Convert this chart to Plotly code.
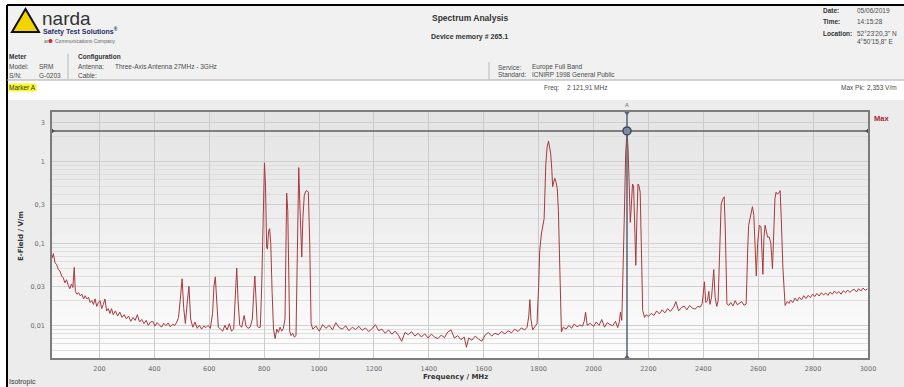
import math
import plotly.graph_objects as go

# ---------------- data ----------------
freq_mhz = [
    27, 32, 38, 44, 50, 56, 62, 68, 74, 80,
    86, 92, 98, 103, 108, 112, 118, 124, 130, 136,
    142, 148, 154, 160, 166, 172, 178, 184, 190, 196,
    202, 208, 214, 220, 226, 232, 238, 244, 250, 258,
    266, 274, 282, 290, 298, 306, 314, 322, 330, 338,
    346, 354, 362, 370, 378, 386, 394, 402, 410, 418,
    426, 434, 442, 450, 458, 466, 474, 482, 488,
    494, 501, 507, 513, 519, 526, 532, 540, 548, 556,
    564, 572, 580, 588, 596, 604, 612, 617, 622, 627,
    633, 641, 649, 657, 665, 673, 681, 689, 695, 700,
    705, 711, 718, 727, 734, 741, 749, 757, 762, 766,
    770, 775, 781, 786, 791, 796, 801, 805, 809, 812,
    816, 820, 824, 829, 834, 840, 846, 852, 858, 864,
    870, 876, 879, 882, 886, 889, 893, 898, 904, 910,
    916, 921, 926, 930, 934, 937, 941, 946, 951, 956,
    961, 966, 971, 977,
    989, 1001, 1013, 1025, 1037, 1049, 1061, 1073, 1085, 1097,
    1109, 1121, 1133, 1145, 1157, 1169, 1181, 1193, 1205, 1217,
    1229, 1241, 1253, 1265, 1277, 1289, 1301, 1313, 1325, 1337,
    1349, 1361, 1373, 1385, 1397, 1409, 1421, 1433, 1445, 1457,
    1469, 1481, 1493, 1505, 1517, 1529, 1537, 1545, 1557, 1569,
    1581, 1593, 1605, 1617, 1629, 1641, 1653, 1665, 1677, 1689,
    1701, 1713, 1725, 1737, 1749, 1758, 1764, 1768, 1772, 1778,
    1786, 1794,
    1800, 1804, 1810, 1815, 1820, 1826, 1831, 1836, 1840, 1844,
    1848, 1851, 1855, 1859, 1864, 1868, 1872, 1875, 1879, 1883,
    1890, 1900, 1910, 1920, 1930, 1940, 1950, 1960, 1966, 1971,
    1977, 1988, 2000, 2010, 2020, 2030, 2040, 2050, 2060, 2070,
    2080, 2088, 2094, 2098, 2103,
    2108, 2112, 2117, 2122, 2126, 2130, 2134, 2138, 2142, 2146,
    2150, 2154, 2158, 2162, 2166, 2170, 2174, 2179, 2186, 2192,
    2200, 2210, 2220, 2230, 2240, 2250, 2260, 2270, 2280, 2292,
    2300, 2310, 2320, 2330, 2340, 2350, 2360, 2370, 2380, 2389,
    2396, 2404, 2409, 2415, 2420, 2424, 2430, 2438, 2443, 2449,
    2454, 2460, 2465, 2470, 2476, 2480, 2486, 2493, 2500, 2508,
    2516, 2524, 2532, 2540, 2548, 2556, 2562, 2565, 2570, 2575,
    2579, 2584, 2588, 2593, 2598, 2604, 2610, 2614, 2617, 2621,
    2625, 2630, 2634, 2640, 2646, 2652, 2657, 2661, 2665, 2670,
    2675, 2680, 2684, 2690, 2698, 2706, 2712, 2718, 2726, 2734,
    2742, 2750, 2758, 2766, 2774, 2782, 2790, 2798, 2806, 2814,
    2822, 2830, 2838, 2846, 2854, 2862, 2870, 2878, 2886, 2894,
    2902, 2910, 2918, 2926, 2934, 2942, 2950, 2958, 2966, 2974,
    2982, 2990, 2998,
]

efield_vm = [
    0.066, 0.075, 0.058, 0.055, 0.048, 0.046, 0.040, 0.038, 0.033, 0.036,
    0.031, 0.028, 0.032, 0.029, 0.051, 0.026, 0.024, 0.025, 0.023, 0.024,
    0.021, 0.023, 0.021, 0.022, 0.019, 0.020, 0.018, 0.021, 0.017, 0.019,
    0.020, 0.016, 0.018, 0.021, 0.015, 0.016, 0.014, 0.016, 0.0135, 0.015,
    0.013, 0.0145, 0.0125, 0.0135, 0.012, 0.013, 0.0112, 0.0125, 0.0115, 0.0135,
    0.011, 0.0118, 0.0105, 0.0115, 0.0100, 0.0110, 0.0112, 0.0098, 0.0108, 0.0102,
    0.0095, 0.0106, 0.0099, 0.0107, 0.0096, 0.0103, 0.0100, 0.0110, 0.0125,
    0.020, 0.037, 0.016, 0.0105, 0.018, 0.030, 0.012, 0.0095, 0.0110, 0.0092,
    0.0100, 0.0090, 0.0098, 0.0094, 0.0100, 0.0092, 0.014, 0.030, 0.039, 0.022,
    0.0095, 0.0090, 0.0085, 0.0100, 0.0088, 0.0105, 0.0085, 0.0090, 0.025, 0.050,
    0.020, 0.0100, 0.0095, 0.0132, 0.0098, 0.0092, 0.0095, 0.012, 0.025, 0.040,
    0.022, 0.0098, 0.0094, 0.0095, 0.03, 0.30, 0.96, 0.50, 0.09, 0.085,
    0.14, 0.151, 0.10, 0.025, 0.009, 0.0069, 0.0090, 0.0082, 0.0095, 0.0085,
    0.0092, 0.012, 0.15, 0.41, 0.25, 0.03, 0.0085, 0.0075, 0.0080, 0.0072,
    0.0075, 0.08, 0.84, 0.30, 0.09, 0.068, 0.20, 0.38, 0.43, 0.44,
    0.42, 0.10, 0.0105, 0.0090,
    0.0098, 0.0085, 0.0102, 0.0092, 0.0100, 0.0088, 0.0108, 0.0094, 0.0090, 0.0099,
    0.0086, 0.0095, 0.0089, 0.0097, 0.0087, 0.0093, 0.0084, 0.0091, 0.0102, 0.0086,
    0.0090, 0.0080, 0.0088, 0.0078, 0.0085, 0.0076, 0.0064, 0.0082, 0.0077, 0.0084,
    0.0074, 0.0080, 0.0072, 0.0079, 0.0070, 0.0078, 0.0072, 0.0069, 0.0076, 0.0071,
    0.0083, 0.0088, 0.0070, 0.0075, 0.0067, 0.0072, 0.0054, 0.0070, 0.0066, 0.0074,
    0.0068, 0.0064, 0.0076, 0.0082, 0.0074, 0.0080, 0.0077, 0.0084, 0.0079, 0.0086,
    0.0081, 0.0090, 0.0084, 0.0093, 0.0088, 0.0095, 0.013, 0.0206, 0.012, 0.0088,
    0.0096, 0.0105,
    0.03, 0.082, 0.13, 0.158, 0.2, 0.9, 1.5, 1.77, 1.5, 1.24,
    0.8, 0.49, 0.56, 0.62, 0.55, 0.46, 0.25, 0.099, 0.02, 0.0083,
    0.0095, 0.0090, 0.0100, 0.0092, 0.0104, 0.0096, 0.0101, 0.0098, 0.0112, 0.0145,
    0.0100, 0.0106, 0.0097, 0.0110, 0.0100, 0.0118, 0.0095, 0.0108, 0.0102, 0.0099,
    0.0112, 0.0094, 0.0110, 0.0145, 0.0115,
    0.04, 0.2, 1.2, 2.353, 1.4, 0.5, 0.18, 0.3, 0.53, 0.5,
    0.2, 0.054, 0.2, 0.53, 0.5, 0.42, 0.1, 0.0152, 0.0125, 0.0135,
    0.0128, 0.0140, 0.0132, 0.0150, 0.0138, 0.0155, 0.0142, 0.0160, 0.0148, 0.0167,
    0.0195, 0.0150, 0.0165, 0.0172, 0.0155, 0.0175, 0.0162, 0.0158, 0.0170, 0.0167,
    0.0185, 0.034, 0.019, 0.020, 0.026, 0.018, 0.022, 0.048, 0.022, 0.017,
    0.020, 0.12, 0.30, 0.34, 0.37, 0.15, 0.0183, 0.0175, 0.0190, 0.0172,
    0.0200, 0.0178, 0.0185, 0.0195, 0.0176, 0.0182, 0.09, 0.166, 0.20, 0.26,
    0.28, 0.22, 0.09, 0.040, 0.10, 0.166, 0.16, 0.08, 0.042, 0.12,
    0.166, 0.14, 0.119, 0.12, 0.10, 0.049, 0.15, 0.35, 0.42, 0.40,
    0.41, 0.44, 0.2, 0.05, 0.0175, 0.0195, 0.0185, 0.0204, 0.0190, 0.0215,
    0.0198, 0.0220, 0.0205, 0.0230, 0.0212, 0.0232, 0.0218, 0.0240, 0.0225, 0.0245,
    0.0228, 0.0250, 0.0235, 0.0248, 0.0232, 0.0255, 0.0240, 0.0262, 0.0245, 0.0258,
    0.0240, 0.0265, 0.0250, 0.0270, 0.0252, 0.0268, 0.0275, 0.0255, 0.0280, 0.0262,
    0.0285, 0.0268, 0.0278,
]
assert len(freq_mhz) == len(efield_vm)

x_tick_vals = [200, 400, 600, 800, 1000, 1200, 1400, 1600, 1800, 2000,
               2200, 2400, 2600, 2800, 3000]
y_tick_vals = [0.01, 0.03, 0.1, 0.3, 1, 3]
y_tick_text = ["0,01", "0,03", "0,1", "0,3", "1", "3"]
x_range = [27, 3000]
y_range = [0.004, 4]
marker_freq = 2121.91
max_pk = 2.353

# ---------------- layout helpers ----------------
W, H = 904, 387
PL, PR, PT, PB = 52, 868, 112, 358


def px(x):
    return (x - PL) / (PR - PL)


def py(y):
    return (PB - y) / (PB - PT)


fig = go.Figure()

# spectrum trace
fig.add_trace(go.Scatter(x=freq_mhz, y=efield_vm, mode="lines",
                         line=dict(color="#a8393d", width=1),
                         showlegend=False, hoverinfo="skip"))
# max line
fig.add_trace(go.Scatter(x=x_range, y=[max_pk, max_pk], mode="lines",
                         line=dict(color="#5c5c5c", width=1.5),
                         showlegend=False, hoverinfo="skip"))
fig.add_trace(go.Scatter(x=x_range, y=[max_pk, max_pk], mode="markers",
                         marker=dict(symbol=["triangle-right", "triangle-left"],
                                     size=6, color="#555555"),
                         cliponaxis=False, showlegend=False, hoverinfo="skip"))
# marker A
fig.add_trace(go.Scatter(x=[marker_freq, marker_freq], y=y_range, mode="lines",
                         line=dict(color="#5a6270", width=1.5),
                         showlegend=False, hoverinfo="skip"))
fig.add_trace(go.Scatter(x=[marker_freq, marker_freq], y=y_range, mode="markers",
                         marker=dict(symbol=["triangle-up", "triangle-down"],
                                     size=7, color="#5a6270"),
                         cliponaxis=False, showlegend=False, hoverinfo="skip"))
fig.add_trace(go.Scatter(x=[marker_freq], y=[max_pk], mode="markers",
                         marker=dict(symbol="circle", size=8, color="#7d8ca2",
                                     line=dict(color="#3e4a5a", width=1.5)),
                         cliponaxis=False, showlegend=False, hoverinfo="skip"))

shapes = []


def rect(x0, y0, x1, y1, color, layer="below"):
    shapes.append(dict(type="rect", xref="paper", yref="paper",
                       x0=px(x0), x1=px(x1), y0=py(y1), y1=py(y0),
                       fillcolor=color, line=dict(width=0), layer=layer))


def line(x0, y0, x1, y1, color, width=1):
    shapes.append(dict(type="line", xref="paper", yref="paper",
                       x0=px(x0), x1=px(x1), y0=py(y0), y1=py(y1),
                       line=dict(color=color, width=width), layer="below"))


# backgrounds
rect(7, 5, 904, 80, "#f1f1f1")
rect(7, 80, 904, 100, "#ffffff")
rect(7, 100, 904, 387, "#ececec")
# plot gradient bands
n_bands = 24
for i in range(n_bands):
    t = i / (n_bands - 1)
    c = int(228 + (253 - 228) * t)
    y0 = PT + (PB - PT) * i / n_bands
    y1 = PT + (PB - PT) * (i + 1) / n_bands
    rect(PL, y0, PR, y1 + 0.5, f"rgb({c},{c},{c})")

# frame and separators
line(7, 5, 904, 5, "#000000", 2)
line(7, 5, 7, 387, "#000000", 2)
line(7, 80, 904, 80, "#a8a8a8", 1)
line(68, 54, 68, 79, "#b8b8b8", 1)
line(489, 62, 489, 79, "#b8b8b8", 1)

# narda logo triangle
shapes.append(dict(type="path", xref="paper", yref="paper",
                   path=f"M {px(12)} {py(32)} L {px(25.5)} {py(9)} L {px(39)} {py(32)} Z",
                   fillcolor="#f3d400", line=dict(color="#111111", width=2), layer="above"))
shapes.append(dict(type="circle", xref="paper", yref="paper",
                   x0=px(48.5), x1=px(52.5), y0=py(43), y1=py(39),
                   fillcolor="#d8232a", line=dict(width=0), layer="above"))

annots = []


def txt(text, x, y, size=6.5, color="#4a4a4a", bold=False, anchor="left",
        family="Liberation Sans, Arial, sans-serif", bg=None, angle=0):
    a = dict(text=f"<b>{text}</b>" if bold else text,
             x=px(x), y=py(y), xref="paper", yref="paper",
             xanchor=anchor, yanchor="middle", showarrow=False,
             textangle=angle, borderpad=0,
             font=dict(size=size, color=color, family=family))
    if bg:
        a["bgcolor"] = bg
    annots.append(a)


# logo text
txt("narda", 41, 18, size=19, color="#333333")
txt("Safety Test Solutions<sup>®</sup>", 42, 30.5, size=7, color="#1f2f66", bold=True)
txt("an", 43, 41, size=5, color="#666666")
txt("Communications Company", 53.5, 41, size=5, color="#666666")

# title block
txt("Spectrum Analysis", 470, 18, size=8.5, color="#333333", bold=True, anchor="center")
txt("Device memory # 265.1", 470, 37, size=7, color="#333333", bold=True, anchor="center")

# date block
txt("Date:", 822, 10, bold=True, color="#333333")
txt("05/06/2019", 856, 10)
txt("Time:", 822, 22, bold=True, color="#333333")
txt("14:15:28", 856, 22)
txt("Location:", 822, 34, bold=True, color="#333333")
txt("52°23'20,3\" N", 856, 34)
txt("4°50'15,8\" E", 856, 42)

# meter / configuration
txt("Meter", 8, 57, bold=True, color="#333333")
txt("Model:", 8, 66)
txt("SRM", 38, 66)
txt("S/N:", 8, 75)
txt("G-0203", 38, 75)
txt("Configuration", 77, 57, bold=True, color="#333333")
txt("Antenna:", 77, 66)
txt("Three-Axis Antenna 27MHz - 3GHz", 114, 66)
txt("Cable:", 77, 75)
txt("Service:", 497, 67)
txt("Europe Full Band", 531, 67)
txt("Standard:", 497, 74.5)
txt("ICNIRP 1998 General Public", 531, 74.5)

# marker row
txt("Marker A", 8, 88, bg="#f7f72a", color="#333333")
txt("Freq:", 543, 88)
txt("2 121,91 MHz", 566, 88)
txt("Max Pk:", 840, 88)
txt("2,353 V/m", 866, 88)

# chart annotations
txt("Max", 873, 118, size=7.5, color="#a3282e", bold=True)
txt("A", 626.5, 105, size=5.5, color="#666666", anchor="center")
txt("E-Field / V/m", 21, 236, size=7, color="#333333", bold=True, anchor="center",
    family="DejaVu Sans, Verdana, sans-serif", angle=-90)
txt("Frequency / MHz", 455, 376.5, size=7, color="#333333", bold=True, anchor="center",
    family="DejaVu Sans, Verdana, sans-serif")
txt("Isotropic", 8, 382, size=7, color="#333333")

minor_vals = [k * 10 ** e for e in (-3, -2, -1, 0) for k in range(2, 10)]

axis_font = dict(size=6.5, color="#6a6a6a", family="DejaVu Sans, Verdana, sans-serif")

fig.update_layout(
    width=W, height=H, autosize=False,
    margin=dict(l=PL, r=W - PR, t=PT, b=H - PB, pad=0),
    paper_bgcolor="#ffffff", plot_bgcolor="rgba(0,0,0,0)",
    showlegend=False,
    shapes=shapes, annotations=annots,
    xaxis=dict(range=x_range, tickmode="array", tickvals=x_tick_vals,
               showgrid=True, gridcolor="#cbcbcb", gridwidth=1, zeroline=False,
               showline=True, mirror=True, linecolor="#7c7c7c", linewidth=1.5,
               ticks="", tickfont=axis_font, ticklabelstandoff=3),
    yaxis=dict(type="log", range=[math.log10(y_range[0]), math.log10(y_range[1])],
               tickmode="array", tickvals=y_tick_vals, ticktext=y_tick_text,
               showgrid=True, gridcolor="#cfcfcf", gridwidth=1, zeroline=False,
               showline=True, mirror=True, linecolor="#7c7c7c", linewidth=1.5,
               ticks="", tickfont=axis_font, ticklabelstandoff=4,
               minor=dict(tickvals=minor_vals, showgrid=True, gridcolor="#dedede",
                          gridwidth=1, ticks="")),
)

fig.write_html("out.html", config={"displayModeBar": False},
               post_script="document.body.style.margin='0';document.body.style.overflow='hidden';")
